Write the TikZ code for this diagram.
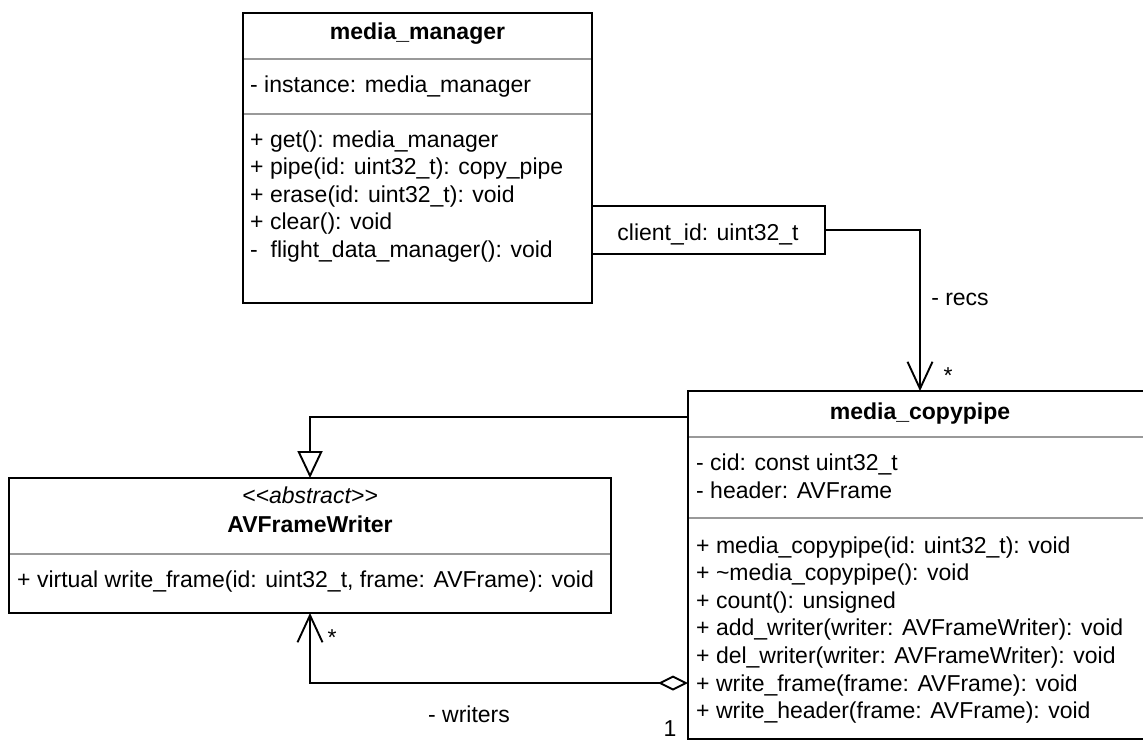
\documentclass[tikz,border=0pt]{standalone}
\usepackage{fontspec}
\setmainfont{Liberation Sans}
\usetikzlibrary{arrows.meta}
\definecolor{divgray}{RGB}{153,153,153}
\begin{document}
\begin{tikzpicture}[x=1pt,y=-1pt,
  box/.style={draw=black, line width=1.9pt, rectangle, inner sep=0pt, outer sep=0pt, anchor=north west, fill=white},
  div/.style={draw=divgray, line width=1.9pt},
  txt/.style={anchor=base west, inner sep=0pt, font=\fontsize{23}{27.6}\selectfont},
  ctr/.style={anchor=base, inner sep=0pt, font=\fontsize{23}{27.6}\selectfont},
  ttl/.style={anchor=base, inner sep=0pt, font=\fontsize{23}{27.6}\selectfont\bfseries},
  conn/.style={draw=black, line width=1.9pt},
  openarrow/.style={-{Straight Barb[length=27pt, width=25pt]}},
]
\useasboundingbox (0,0) rectangle (1143,740);

% class boxes
\node[box, minimum width=349pt, minimum height=290pt] (mm) at (243,13) {};
\node[box, minimum width=233pt, minimum height=48pt] (q) at (592,206) {};
\node[box, minimum width=464pt, minimum height=348pt] (cp) at (688,391) {};
\node[box, minimum width=602pt, minimum height=135pt] (av) at (9,478) {};

% compartment dividers
\draw[div] (244,59) -- (591,59);
\draw[div] (244,114) -- (591,114);
\draw[div] (689,437) -- (1152,437);
\draw[div] (689,518) -- (1152,518);
\draw[div] (10,554) -- (610,554);

% media_manager
\node[ttl] (mmt) at (417.5,39) {media\_manager};
\node[txt] (mma) at (250,92) {- instance: media\_manager};
\node[txt] (mm1) at (250,147) {+ get(): media\_manager};
\node[txt] (mm2) at (250,174.6) {+ pipe(id: uint32\_t): copy\_pipe};
\node[txt] (mm3) at (250,202.2) {+ erase(id: uint32\_t): void};
\node[txt] (mm4) at (250,229.8) {+ clear(): void};
\node[txt] (mm5) at (250,257.4) {- \ flight\_data\_manager(): void};

% qualifier
\node[ctr] (qt) at (708,240) {client\_id: uint32\_t};

% media_copypipe
\node[ttl] (cpt) at (920,419) {media\_copypipe};
\node[txt] (cpa1) at (696,470) {- cid: const uint32\_t};
\node[txt] (cpa2) at (696,498) {- header: AVFrame};
\node[txt] (cp1) at (696,553) {+ media\_copypipe(id: uint32\_t): void};
\node[txt] (cp2) at (696,580.6) {+ \textasciitilde media\_copypipe(): void};
\node[txt] (cp3) at (696,608.2) {+ count(): unsigned};
\node[txt] (cp4) at (696,635.8) {+ add\_writer(writer: AVFrameWriter): void};
\node[txt] (cp5) at (696,663.4) {+ del\_writer(writer: AVFrameWriter): void};
\node[txt] (cp6) at (696,691) {+ write\_frame(frame: AVFrame): void};
\node[txt] (cp7) at (696,718.6) {+ write\_header(frame: AVFrame): void};

% AVFrameWriter
\node[ctr] (avs) at (310,503) {\itshape <\kern0pt<abstract>\kern0pt>};
\node[ttl] (avt) at (310,532) {AVFrameWriter};
\node[txt] (av1) at (17,587) {+ virtual write\_frame(id: uint32\_t, frame: AVFrame): void};

% connectors
\draw[conn, openarrow] (q.east) -| (cp.north);
\draw[conn, -{Triangle[open, length=27pt, width=25pt, fill=white]}] ([yshift=-26pt]cp.north west) -| (av.north);
\draw[conn, {Diamond[open, length=30pt, width=15pt, fill=white]}-{Straight Barb[length=27pt, width=25pt]}] ([yshift=-292pt]cp.north west) -| (av.south);

% connector labels
\node[ctr] (recs) at (960,305) {- recs};
\node[ctr] (recsm) at (948,383) {*};
\node[ctr] (wrm) at (332,645) {*};
\node[ctr] (wr) at (469,722) {- writers};
\node[ctr] (one) at (670,736) {1};
\end{tikzpicture}
\end{document}
